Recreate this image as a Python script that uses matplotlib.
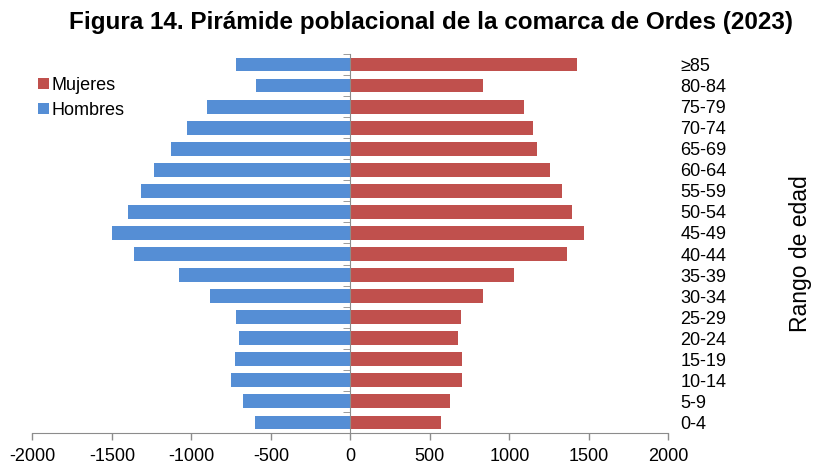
import matplotlib.pyplot as plt
import numpy as np

plt.rcParams['font.family'] = ['Liberation Sans', 'DejaVu Sans']
plt.rcParams['axes.unicode_minus'] = False

# Age groups (bottom to top) and population by sex
grupos = ['0-4', '5-9', '10-14', '15-19', '20-24', '25-29', '30-34', '35-39', '40-44',
          '45-49', '50-54', '55-59', '60-64', '65-69', '70-74', '75-79', '80-84', '≥85']
hombres = [600, 674, 751, 728, 699, 722, 880, 1075, 1362,
           1499, 1398, 1316, 1234, 1125, 1026, 902, 592, 722]
mujeres = [572, 629, 702, 702, 679, 694, 834, 1032, 1361,
           1470, 1395, 1330, 1256, 1176, 1149, 1093, 834, 1424]

azul = '#558ED5'
rojo = '#C0504D'
gris = '#8C8C8C'

fig = plt.figure(figsize=(8.14, 4.65), dpi=100)
ax = fig.add_axes([0.0397, 0.0688, 0.7814, 0.8152])

y = np.arange(len(grupos))
ax.barh(y, [-v for v in hombres], height=0.66, color=azul, label='Hombres')
ax.barh(y, mujeres, height=0.66, color=rojo, label='Mujeres')

ax.set_xlim(-2000, 2000)
ax.set_ylim(-0.5, len(grupos) - 0.5)
ax.set_xticks(np.arange(-2000, 2001, 500))
ax.tick_params(axis='x', labelsize=13, color=gris, length=5, width=1, pad=6)

# vertical axis sits at zero, with marks at category boundaries
for s in ['top', 'right']:
    ax.spines[s].set_visible(False)
ax.spines['left'].set_position(('data', 0))
ax.spines['left'].set_color(gris)
ax.spines['bottom'].set_color(gris)
ax.set_yticks(y)
ax.set_yticklabels(grupos)
ax.set_yticks(np.arange(-0.5, len(grupos)), minor=True)
ax.tick_params(axis='y', which='major', left=False, right=False,
               labelleft=False, labelright=True, labelsize=13, pad=5)
ax.tick_params(axis='y', which='minor', left=True, right=False, length=5, color=gris)
for t in ax.get_yticklabels():
    t.set_horizontalalignment('left')

fig.text(0.983, 0.454, 'Rango de edad', rotation=90, fontsize=16.5,
         ha='center', va='center')
fig.text(0.529, 0.952, 'Figura 14. Pirámide poblacional de la comarca de Ordes (2023)',
         fontsize=17.5, fontweight='bold', ha='center', va='center')

h, l = ax.get_legend_handles_labels()
ax.legend(h[::-1], l[::-1], loc='upper left', bbox_to_anchor=(-0.008, 0.968),
          frameon=False, fontsize=13, handlelength=0.6, handleheight=0.6,
          handletextpad=0.15, labelspacing=0.45, borderaxespad=0.2)

fig.savefig('out.png', dpi=100)
